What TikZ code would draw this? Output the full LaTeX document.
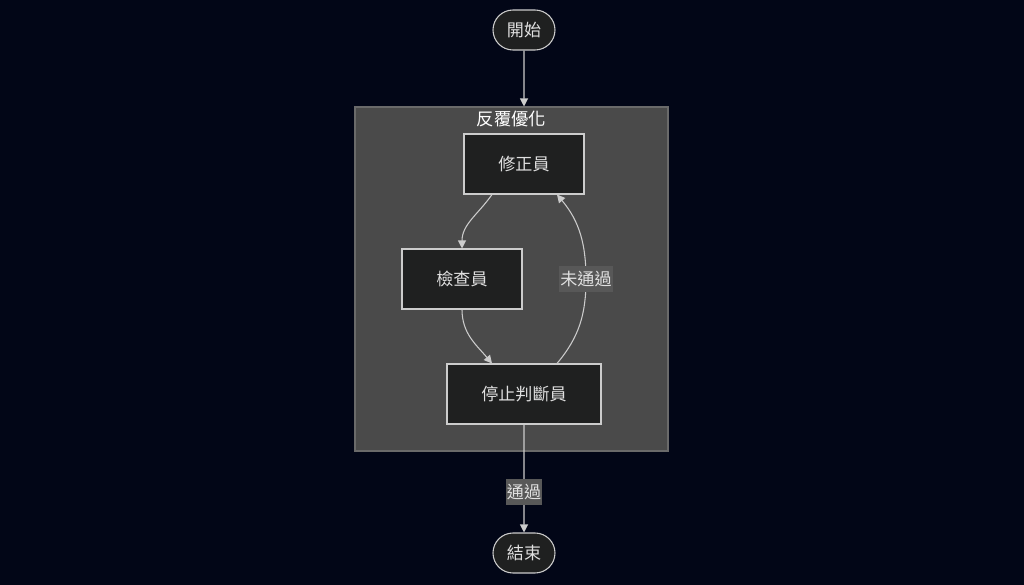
\documentclass[tikz,border=0pt]{standalone}
\usepackage{fontspec}
\setmainfont{Noto Sans CJK TC}
\usetikzlibrary{arrows.meta,shapes.misc,positioning}
\definecolor{bg}{HTML}{020617}
\definecolor{clfill}{HTML}{4A4A4A}
\definecolor{clline}{HTML}{6A6A6A}
\definecolor{nfill}{HTML}{1F2020}
\definecolor{nline}{HTML}{CCCCCC}
\definecolor{txt}{HTML}{E0E0E0}
\definecolor{lblbg}{HTML}{585858}
\tikzset{
  box/.style={draw=nline, fill=nfill, line width=0.8pt, minimum width=90pt, minimum height=45pt, text=txt, font=\fontsize{12.8}{14}\selectfont, inner sep=0pt},
  term/.style={draw=nline, fill=nfill, line width=0.8pt, rounded rectangle, minimum width=46.5pt, minimum height=30pt, text=txt, font=\fontsize{12.8}{14}\selectfont, inner sep=0pt},
  conn/.style={draw=nline, line width=0.8pt, -{Triangle[length=6pt,width=6pt]}},
  lbl/.style={fill=lblbg, text=txt, font=\fontsize{12.8}{14}\selectfont, inner xsep=1pt, inner ysep=0pt, minimum height=20pt}
}
\begin{document}
\begin{tikzpicture}[x=0.75pt,y=-0.75pt]
\fill[bg] (0,0) rectangle (1024,585);
\useasboundingbox (0,0) rectangle (1024,585);
\node[draw=clline, fill=clfill, line width=0.8pt, minimum width=234.75pt, minimum height=258pt, inner sep=0pt] (cl) at (511.5,279) {};
\node[text=white, font=\fontsize{13}{15}\selectfont] (title) at (511.5,119) {反覆優化};
\node[term] (start) at (524,30) {開始};
\node[box] (fix) at (524,164) {修正員};
\node[box] (check) at (462,279) {檢查員};
\node[box, minimum width=115.5pt] (stop) at (524,394) {停止判斷員};
\node[term] (end) at (524,553) {結束};
\coordinate (mid) at (586,279);
\draw[conn] (start) -- (cl.north -| start);
\draw[conn] ([xshift=-24pt]fix.south) to[out=-125,in=90] (check.north);
\draw[conn] (check.south) to[out=-90,in=130] ([xshift=-24pt]stop.north);
\draw[conn] ([xshift=24.75pt]stop.north) to[out=50,in=-90] (mid) to[out=90,in=-50] ([xshift=24.75pt]fix.south);
\node[lbl] (l1) at (mid) {未通過};
\draw[conn] (stop) -- (end);
\node[lbl] (l2) at (524,492) {通過};
\end{tikzpicture}
\end{document}
